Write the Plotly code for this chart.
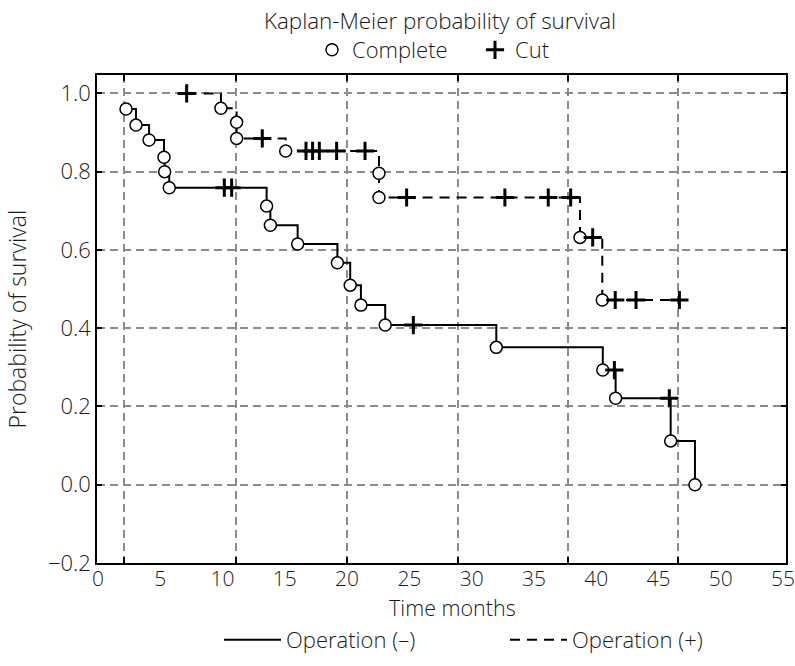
import plotly.graph_objects as go

# ---- data ----
# Operation (-) : solid line
neg_event_t = [2.17, 2.97, 4.02, 5.22, 5.27, 5.64, 13.46, 13.76, 15.95, 19.14, 20.17, 21.03, 22.98, 31.90, 40.45, 41.48, 45.90, 47.85]
neg_event_s = [0.96, 0.919, 0.881, 0.837, 0.80, 0.759, 0.712, 0.663, 0.615, 0.567, 0.510, 0.459, 0.408, 0.351, 0.293, 0.221, 0.112, 0.0]
neg_cut_t = [10.06, 10.65, 25.24, 41.38, 45.79]

# Operation (+) : dashed line
pos_start_s = 1.0
pos_event_t = [9.79, 11.05, 11.05, 14.99, 22.48, 22.48, 38.62, 40.41]
pos_event_s = [0.962, 0.926, 0.885, 0.853, 0.796, 0.734, 0.632, 0.472]
pos_cut_t = [7.04, 13.11, 16.62, 17.15, 17.69, 19.08, 21.36, 24.70, 32.59, 36.07, 37.87, 39.64, 41.45, 43.12, 46.60]

x_ticks = list(range(0, 56, 5))
y_ticks = [-0.2, 0.0, 0.2, 0.4, 0.6, 0.8, 1.0]
grid_x = [2.03, 11.00, 19.94, 28.79, 37.68, 46.51]

series_names = ["Operation (–)", "Operation (+)"]
marker_names = ["Complete", "Cut"]
x_title = "Time months"
y_title = "Probability of survival"
main_title = "Kaplan-Meier probability of survival"


def level_at(t, ev_t, ev_s, start):
    s = start
    for et, es in zip(ev_t, ev_s):
        if et <= t:
            s = es
    return s


def km_path(ev_t, ev_s, cut_t, start):
    pts = [(t, s) for t, s in zip(ev_t, ev_s)]
    pts += [(t, level_at(t, ev_t, ev_s, start)) for t in cut_t]
    pts.sort(key=lambda p: p[0])
    return [p[0] for p in pts], [p[1] for p in pts]


neg_cut_s = [level_at(t, neg_event_t, neg_event_s, 1.0) for t in neg_cut_t]
pos_cut_s = [level_at(t, pos_event_t, pos_event_s, pos_start_s) for t in pos_cut_t]

neg_x, neg_y = km_path(neg_event_t, neg_event_s, neg_cut_t, 1.0)
pos_x, pos_y = km_path(pos_event_t, pos_event_s, pos_cut_t, pos_start_s)

FONT = "Open Sans"
TXT = "#1a1a1a"
fig = go.Figure()

fig.add_trace(go.Scatter(x=neg_x, y=neg_y, mode="lines", name=series_names[0],
                         line=dict(color="black", width=2, shape="hv"),
                         legend="legend2", hoverinfo="skip"))
fig.add_trace(go.Scatter(x=pos_x, y=pos_y, mode="lines", name=series_names[1],
                         line=dict(color="black", width=2, shape="hv", dash="10px,7px"),
                         legend="legend2", hoverinfo="skip"))

circle_style = dict(symbol="circle", size=12, color="white", line=dict(color="black", width=1.5))
cross_style = dict(symbol="cross-thin", size=13, color="black", line=dict(color="black", width=3))

fig.add_trace(go.Scatter(x=neg_event_t, y=neg_event_s, mode="markers", marker=circle_style,
                         name=marker_names[0], legend="legend", xaxis="x2", showlegend=True))
fig.add_trace(go.Scatter(x=pos_event_t, y=pos_event_s, mode="markers", marker=circle_style,
                         name=marker_names[0], legend="legend", xaxis="x2", showlegend=False))
fig.add_trace(go.Scatter(x=neg_cut_t, y=neg_cut_s, mode="markers", marker=cross_style,
                         name=marker_names[1], legend="legend", xaxis="x2", showlegend=True))
fig.add_trace(go.Scatter(x=pos_cut_t, y=pos_cut_s, mode="markers", marker=cross_style,
                         name=marker_names[1], legend="legend", xaxis="x2", showlegend=False))

grid_color = "#8c8c8c"
W, H = 795, 666
PLOT_L, PLOT_R, PLOT_T, PLOT_B = 97, 786, 75, 563  # pixels
L, R, T, B = PLOT_L, W - PLOT_R, PLOT_T, H - PLOT_B
PW, PH = PLOT_R - PLOT_L, PLOT_B - PLOT_T
x_range = [-0.16, 55.16]
y_range = [-0.2, 1.047]


def px_x(p):
    return (p - PLOT_L) / PW


def px_y(p):
    return (PLOT_B - p) / PH


fig.update_layout(
    width=W, height=H,
    margin=dict(l=L, r=R, t=T, b=B, autoexpand=False),
    plot_bgcolor="white", paper_bgcolor="white",
    hovermode=False,
    font=dict(family=FONT, size=22, color=TXT, weight=300),
    title=dict(text=main_title, x=440 / W, xanchor="center",
               y=1 - 21 / H, yanchor="middle", yref="container",
               font=dict(family=FONT, size=22.4, color=TXT, weight=300)),
    xaxis=dict(range=x_range, tickvals=x_ticks, ticks="", showgrid=False, zeroline=False,
               showline=True, mirror=True, linecolor="black", linewidth=1.5,
               tickfont=dict(size=21), ticklabeloverflow="allow", ticklabelstandoff=-4,
               ticklabelshift=-1),
    xaxis2=dict(range=x_range, overlaying="x", anchor="y", side="bottom", tickvals=grid_x,
                showticklabels=False, ticks="inside", ticklen=6, tickwidth=1.5, tickcolor="black",
                showgrid=True, gridcolor=grid_color, gridwidth=1.5, griddash="8px,5px",
                zeroline=False, showline=True, linecolor="black", linewidth=1.5, mirror="ticks"),
    yaxis=dict(range=y_range, tickvals=y_ticks, tickformat=".1f", ticks="inside", ticklen=5,
               tickwidth=1.5, tickcolor="black", mirror="ticks", showline=True, linecolor="black",
               linewidth=1.5, showgrid=True, gridcolor=grid_color, gridwidth=1.5, griddash="8px,5px",
               zeroline=False, ticklabelstandoff=0, tickfont=dict(size=22)),
    legend=dict(orientation="h", x=px_x(312), xanchor="left", y=px_y(50), yanchor="middle",
                bgcolor="rgba(0,0,0,0)", font=dict(size=22), entrywidth=118),
    legend2=dict(orientation="h", x=px_x(219), xanchor="left", y=px_y(640), yanchor="middle",
                 bgcolor="rgba(0,0,0,0)", font=dict(size=22), itemwidth=57, entrywidth=214),
    annotations=[
        dict(text=x_title, xref="paper", yref="paper", x=px_x(452.5), y=px_y(607),
             xanchor="center", yanchor="middle", showarrow=False,
             font=dict(family=FONT, size=21.5, color=TXT, weight=300)),
        dict(text=y_title, xref="paper", yref="paper", x=px_x(16.5), y=px_y(319),
             xanchor="center", yanchor="middle", showarrow=False, textangle=-90,
             font=dict(family=FONT, size=23, color=TXT, weight=300)),
    ],
)

# remove the browser's default 8px page margin so the figure fills the window exactly
fig.write_html("out.html", config={"displayModeBar": False},
               post_script="document.body.style.margin='0px';")
